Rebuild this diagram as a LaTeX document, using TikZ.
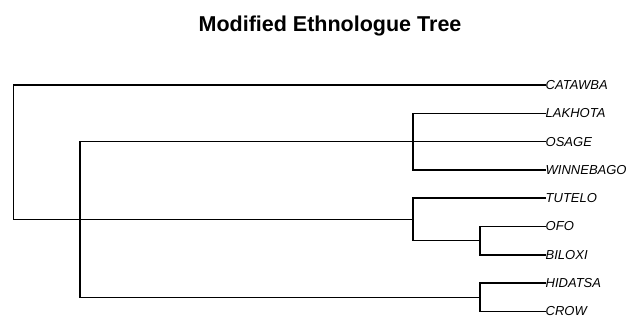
\documentclass[tikz,border=0pt]{standalone}
\usepackage{fontspec}
\setmainfont{Liberation Sans}
\begin{document}
\begin{tikzpicture}[x=1pt,y=-1pt,
  leaf/.style={anchor=west,inner sep=0.5pt,font=\fontsize{13}{15}\selectfont\itshape},
  branch/.style={line width=1.5pt,line cap=rect},
  titlestyle/.style={anchor=base,inner sep=0pt,font=\fontsize{21.5}{24}\selectfont\bfseries}]
\useasboundingbox (0,0) rectangle (641,321);
\node[titlestyle] (title) at (330,31.5) {Modified Ethnologue Tree};
% leaves
\node[leaf] (catawba) at (545,85) {CATAWBA};
\node[leaf] (lakhota) at (545,113.3) {LAKHOTA};
\node[leaf] (osage) at (545,141.6) {OSAGE};
\node[leaf] (winnebago) at (545,169.9) {WINNEBAGO};
\node[leaf] (tutelo) at (545,198.2) {TUTELO};
\node[leaf] (ofo) at (545,226.5) {OFO};
\node[leaf] (biloxi) at (545,254.8) {BILOXI};
\node[leaf] (hidatsa) at (545,283.1) {HIDATSA};
\node[leaf] (crow) at (545,311.4) {CROW};
% internal nodes
\coordinate (ob) at (480,240.65);
\coordinate (hc) at (480,297.25);
\coordinate (tu) at (413,219.4);
\coordinate (lw) at (413,141.6);
\coordinate (n1) at (80,219.4);
\coordinate (root) at (13.3,152.2);
% edges
\draw[branch] (root) |- (catawba.west);
\draw[branch] (root) |- (n1);
\draw[branch] (n1) |- (lw);
\draw[branch] (n1) |- (tu);
\draw[branch] (n1) |- (hc);
\draw[branch] (lw) |- (lakhota.west);
\draw[branch] (lw) |- (osage.west);
\draw[branch] (lw) |- (winnebago.west);
\draw[branch] (tu) |- (tutelo.west);
\draw[branch] (tu) |- (ob);
\draw[branch] (ob) |- (ofo.west);
\draw[branch] (ob) |- (biloxi.west);
\draw[branch] (hc) |- (hidatsa.west);
\draw[branch] (hc) |- (crow.west);
\end{tikzpicture}
\end{document}
